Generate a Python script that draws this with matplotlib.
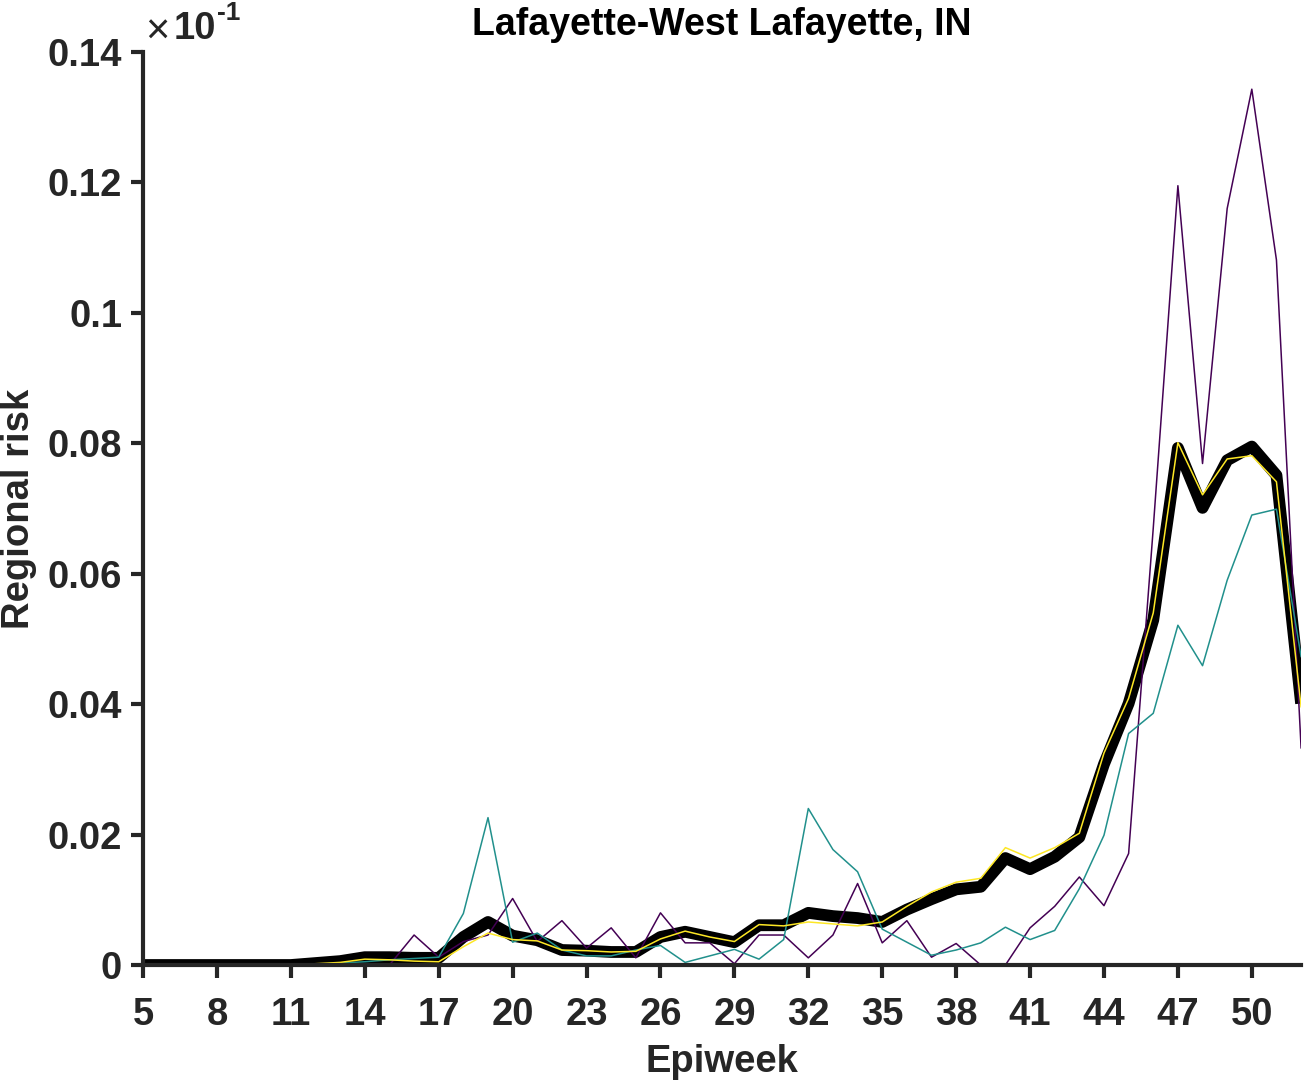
import matplotlib
matplotlib.use("Agg")
import matplotlib.pyplot as plt

plt.rcParams['font.family'] = ['Liberation Sans', 'DejaVu Sans']

weeks = list(range(5, 53))

black_vals = [0, 0, 0, 0, 0, 0, 0, 0.0003, 0.0006, 0.0012, 0.0012, 0.0011, 0.0011,
              0.0043, 0.0066, 0.0045, 0.0038, 0.0023, 0.0022, 0.0020, 0.0020, 0.0043,
              0.0051, 0.0043, 0.0035, 0.0061, 0.0061, 0.0080, 0.0075, 0.0072, 0.0066,
              0.0085, 0.0101, 0.0116, 0.0120, 0.0164, 0.0147, 0.0166, 0.0196, 0.0308,
              0.0401, 0.0529, 0.0793, 0.0701, 0.0774, 0.0795, 0.0751, 0.0401]

yellow_vals = [0, 0, 0, 0, 0, 0, 0, 0.0002, 0.0004, 0.0009, 0.0008, 0.0006, 0.0005,
               0.0028, 0.0049, 0.0039, 0.0037, 0.0023, 0.0022, 0.0020, 0.0021, 0.0040,
               0.0052, 0.0043, 0.0036, 0.0062, 0.0060, 0.0066, 0.0063, 0.0060, 0.0066,
               0.0090, 0.0112, 0.0127, 0.0133, 0.0180, 0.0164, 0.0180, 0.0202, 0.0325,
               0.0409, 0.0540, 0.0801, 0.0721, 0.0776, 0.0781, 0.0741, 0.0396]

teal_vals = [0, 0, 0, 0, 0, 0, 0, 0.0001, 0.0003, 0.0005, 0.0008, 0.0010, 0.0012,
             0.0079, 0.0226, 0.0035, 0.0049, 0.0023, 0.0014, 0.0014, 0.0023, 0.0030,
             0.0004, 0.0014, 0.0024, 0.0009, 0.0039, 0.0240, 0.0177, 0.0143, 0.0055,
             0.0035, 0.0015, 0.0023, 0.0034, 0.0058, 0.0039, 0.0053, 0.0117, 0.0199,
             0.0355, 0.0386, 0.0521, 0.0459, 0.0590, 0.0690, 0.0699, 0.0473]

purple_vals = [0, 0, 0, 0, 0, 0, 0, 0, 0, 0, 0, 0.0046, 0.0012,
               0.0036, 0.0046, 0.0102, 0.0036, 0.0068, 0.0026, 0.0057, 0.0011, 0.0080,
               0.0034, 0.0034, 0.0002, 0.0046, 0.0046, 0.0011, 0.0046, 0.0125, 0.0034,
               0.0068, 0.0012, 0.0033, 0, 0, 0.0057, 0.0090, 0.0135, 0.0091,
               0.0171, 0.0670, 0.1195, 0.0769, 0.1160, 0.1343, 0.1081, 0.0333]

xticks = list(range(5, 51, 3))
yticks = [0, 0.02, 0.04, 0.06, 0.08, 0.1, 0.12, 0.14]
ytick_labels = ["0", "0.02", "0.04", "0.06", "0.08", "0.1", "0.12", "0.14"]

title = "Lafayette-West Lafayette, IN"
xlabel = "Epiweek"
ylabel = "Regional risk"

dark = "#262626"
fs = 27.5

fig = plt.figure(figsize=(13.1, 10.86), dpi=100)
ax = fig.add_axes([0.1092, 0.1114, 0.8840, 0.8407])

ax.plot(weeks, black_vals, color="black", lw=8.5, zorder=2,
        solid_joinstyle="round", solid_capstyle="butt")
ax.plot(weeks, purple_vals, color="#440154", lw=1.1, zorder=3)
ax.plot(weeks, teal_vals, color="#21908C", lw=1.1, zorder=3)
ax.plot(weeks, yellow_vals, color="#FDE725", lw=1.1, zorder=4)

ax.set_xlim(5, 52)
ax.set_ylim(0, 0.14)
ax.set_xticks(xticks)
ax.set_yticks(yticks)
ax.set_yticklabels(ytick_labels)

for s in ["top", "right"]:
    ax.spines[s].set_visible(False)
for s in ["left", "bottom"]:
    ax.spines[s].set_color(dark)
    ax.spines[s].set_linewidth(3)
    ax.spines[s].set_zorder(10)

ax.tick_params(axis="both", direction="out", length=9, width=3, color=dark,
               labelcolor=dark, labelsize=fs)
ax.tick_params(axis="x", pad=14)
ax.tick_params(axis="y", pad=6)
for lab in ax.get_xticklabels() + ax.get_yticklabels():
    lab.set_fontweight("bold")

ax.set_title(title, fontsize=27, fontweight="bold", color="black", pad=12)
ax.set_xlabel(xlabel, fontsize=fs, fontweight="bold", color=dark, labelpad=8)
ax.set_ylabel(ylabel, fontsize=fs, fontweight="bold", color=dark, labelpad=8)

# multiplier annotation
fig.text(145 / 1310, 1 - 33 / 1086, "\u00d7", fontsize=30, color=dark, va="center", ha="left")
fig.text(174 / 1310, 1 - 29 / 1086, "10", fontsize=fs, fontweight="bold", color=dark,
         va="center", ha="left")
fig.text(217 / 1310, 1 - 13 / 1086, "-1", fontsize=19, fontweight="bold", color=dark,
         va="center", ha="left")

fig.savefig("out.png", dpi=100)
